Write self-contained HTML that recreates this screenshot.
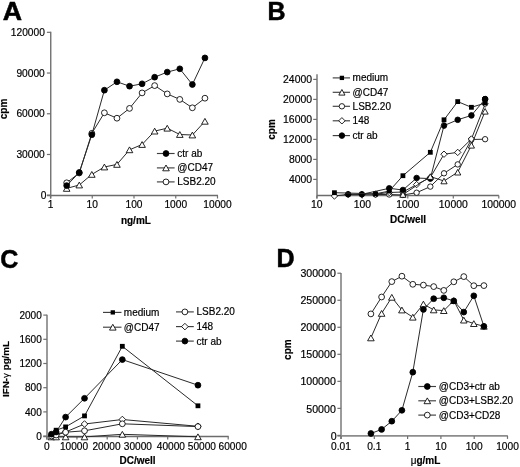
<!DOCTYPE html>
<html><head><meta charset="utf-8"><title>Figure</title>
<style>
html,body{margin:0;padding:0;background:#fff;}
body{width:520px;height:467px;overflow:hidden;}
svg{display:block;will-change:transform;font-family:"Liberation Sans", sans-serif;}
text{fill:#000;stroke:#000;stroke-width:0.18px;}
</style></head><body>
<svg width="520" height="467" viewBox="0 0 520 467">
<rect width="520" height="467" fill="#fff"/>
<text transform="translate(2.7 19.8) scale(1.07 1)" font-size="25" font-weight="bold" style="stroke-width:0.5px">A</text>
<text x="267.6" y="20" text-anchor="start" font-size="25" font-weight="bold" style="stroke-width:0.5px">B</text>
<text x="0.3" y="268.3" text-anchor="start" font-size="25" font-weight="bold" style="stroke-width:0.5px">C</text>
<text x="276.5" y="267.4" text-anchor="start" font-size="25" font-weight="bold" style="stroke-width:0.5px">D</text>
<line x1="50.75" y1="31.8" x2="50.75" y2="198.5" stroke="#6c6c6c" stroke-width="1.35"/>
<line x1="46.9" y1="195.5" x2="218" y2="195.5" stroke="#6c6c6c" stroke-width="1.35"/>
<line x1="46.9" y1="195.2" x2="50.75" y2="195.2" stroke="#707070" stroke-width="1.2"/>
<text x="46.3" y="198.8" text-anchor="end" font-size="10.2" font-weight="normal">0</text>
<line x1="46.9" y1="154.48" x2="50.75" y2="154.48" stroke="#707070" stroke-width="1.2"/>
<text x="44.8" y="158.08" text-anchor="end" font-size="10.2" font-weight="normal">30000</text>
<line x1="46.9" y1="113.76" x2="50.75" y2="113.76" stroke="#707070" stroke-width="1.2"/>
<text x="44.8" y="117.36" text-anchor="end" font-size="10.2" font-weight="normal">60000</text>
<line x1="46.9" y1="73.04" x2="50.75" y2="73.04" stroke="#707070" stroke-width="1.2"/>
<text x="44.8" y="76.64" text-anchor="end" font-size="10.2" font-weight="normal">90000</text>
<line x1="46.9" y1="32.32" x2="50.75" y2="32.32" stroke="#707070" stroke-width="1.2"/>
<text x="44.8" y="35.92" text-anchor="end" font-size="10.2" font-weight="normal">120000</text>
<line x1="50.5" y1="195.5" x2="50.5" y2="198.5" stroke="#707070" stroke-width="1.2"/>
<text x="50.5" y="208.2" text-anchor="middle" font-size="10.2" font-weight="normal">1</text>
<line x1="92.25" y1="195.5" x2="92.25" y2="198.5" stroke="#707070" stroke-width="1.2"/>
<text x="92.25" y="208.2" text-anchor="middle" font-size="10.2" font-weight="normal">10</text>
<line x1="134" y1="195.5" x2="134" y2="198.5" stroke="#707070" stroke-width="1.2"/>
<text x="134" y="208.2" text-anchor="middle" font-size="10.2" font-weight="normal">100</text>
<line x1="175.75" y1="195.5" x2="175.75" y2="198.5" stroke="#707070" stroke-width="1.2"/>
<text x="175.75" y="208.2" text-anchor="middle" font-size="10.2" font-weight="normal">1000</text>
<line x1="217.5" y1="195.5" x2="217.5" y2="198.5" stroke="#707070" stroke-width="1.2"/>
<text x="217.5" y="208.2" text-anchor="middle" font-size="10.2" font-weight="normal">10000</text>
<text x="135.9" y="223.5" text-anchor="middle" font-size="10" font-weight="bold">ng/mL</text>
<text transform="translate(6.5 109) rotate(-90)" text-anchor="middle" font-size="10" font-weight="bold">cpm</text>
<path d="M66.68 182.8 L79.25 173 L91.82 133.3 L104.39 112.8 L116.96 118.2 L129.52 108.4 L142.09 92.9 L154.66 85.6 L167.23 93.9 L179.8 99.4 L192.36 107.8 L204.93 98.2" fill="none" stroke="#2a2a2a" stroke-width="1.0" stroke-linejoin="round"/>
<circle cx="66.68" cy="182.8" r="2.9" fill="#fff" stroke="#000" stroke-width="0.85"/>
<circle cx="79.25" cy="173" r="2.9" fill="#fff" stroke="#000" stroke-width="0.85"/>
<circle cx="91.82" cy="133.3" r="2.9" fill="#fff" stroke="#000" stroke-width="0.85"/>
<circle cx="104.39" cy="112.8" r="2.9" fill="#fff" stroke="#000" stroke-width="0.85"/>
<circle cx="116.96" cy="118.2" r="2.9" fill="#fff" stroke="#000" stroke-width="0.85"/>
<circle cx="129.52" cy="108.4" r="2.9" fill="#fff" stroke="#000" stroke-width="0.85"/>
<circle cx="142.09" cy="92.9" r="2.9" fill="#fff" stroke="#000" stroke-width="0.85"/>
<circle cx="154.66" cy="85.6" r="2.9" fill="#fff" stroke="#000" stroke-width="0.85"/>
<circle cx="167.23" cy="93.9" r="2.9" fill="#fff" stroke="#000" stroke-width="0.85"/>
<circle cx="179.8" cy="99.4" r="2.9" fill="#fff" stroke="#000" stroke-width="0.85"/>
<circle cx="192.36" cy="107.8" r="2.9" fill="#fff" stroke="#000" stroke-width="0.85"/>
<circle cx="204.93" cy="98.2" r="2.9" fill="#fff" stroke="#000" stroke-width="0.85"/>
<path d="M66.68 188.4 L79.25 185 L91.82 174.4 L104.39 167 L116.96 164.4 L129.52 149.8 L142.09 144.5 L154.66 131.1 L167.23 128.2 L179.8 134.5 L192.36 135 L204.93 121.3" fill="none" stroke="#2a2a2a" stroke-width="1.0" stroke-linejoin="round"/>
<path d="M66.68 185.5L69.98 191.3L63.38 191.3Z" fill="#fff" stroke="#000" stroke-width="0.85" stroke-linejoin="miter"/>
<path d="M79.25 182.1L82.55 187.9L75.95 187.9Z" fill="#fff" stroke="#000" stroke-width="0.85" stroke-linejoin="miter"/>
<path d="M91.82 171.5L95.12 177.3L88.52 177.3Z" fill="#fff" stroke="#000" stroke-width="0.85" stroke-linejoin="miter"/>
<path d="M104.39 164.1L107.69 169.9L101.09 169.9Z" fill="#fff" stroke="#000" stroke-width="0.85" stroke-linejoin="miter"/>
<path d="M116.96 161.5L120.26 167.3L113.66 167.3Z" fill="#fff" stroke="#000" stroke-width="0.85" stroke-linejoin="miter"/>
<path d="M129.52 146.9L132.82 152.7L126.22 152.7Z" fill="#fff" stroke="#000" stroke-width="0.85" stroke-linejoin="miter"/>
<path d="M142.09 141.6L145.39 147.4L138.79 147.4Z" fill="#fff" stroke="#000" stroke-width="0.85" stroke-linejoin="miter"/>
<path d="M154.66 128.2L157.96 134L151.36 134Z" fill="#fff" stroke="#000" stroke-width="0.85" stroke-linejoin="miter"/>
<path d="M167.23 125.3L170.53 131.1L163.93 131.1Z" fill="#fff" stroke="#000" stroke-width="0.85" stroke-linejoin="miter"/>
<path d="M179.8 131.6L183.1 137.4L176.5 137.4Z" fill="#fff" stroke="#000" stroke-width="0.85" stroke-linejoin="miter"/>
<path d="M192.36 132.1L195.66 137.9L189.06 137.9Z" fill="#fff" stroke="#000" stroke-width="0.85" stroke-linejoin="miter"/>
<path d="M204.93 118.4L208.23 124.2L201.63 124.2Z" fill="#fff" stroke="#000" stroke-width="0.85" stroke-linejoin="miter"/>
<path d="M66.68 185.6 L79.25 172.5 L91.82 134.7 L104.39 90.2 L116.96 81.8 L129.52 86.2 L142.09 83.8 L154.66 77.2 L167.23 72.1 L179.8 68.8 L192.36 84.5 L204.93 57.9" fill="none" stroke="#2a2a2a" stroke-width="1.0" stroke-linejoin="round"/>
<circle cx="66.68" cy="185.6" r="2.9" fill="#000" stroke="#000" stroke-width="0.85"/>
<circle cx="79.25" cy="172.5" r="2.9" fill="#000" stroke="#000" stroke-width="0.85"/>
<circle cx="91.82" cy="134.7" r="2.9" fill="#000" stroke="#000" stroke-width="0.85"/>
<circle cx="104.39" cy="90.2" r="2.9" fill="#000" stroke="#000" stroke-width="0.85"/>
<circle cx="116.96" cy="81.8" r="2.9" fill="#000" stroke="#000" stroke-width="0.85"/>
<circle cx="129.52" cy="86.2" r="2.9" fill="#000" stroke="#000" stroke-width="0.85"/>
<circle cx="142.09" cy="83.8" r="2.9" fill="#000" stroke="#000" stroke-width="0.85"/>
<circle cx="154.66" cy="77.2" r="2.9" fill="#000" stroke="#000" stroke-width="0.85"/>
<circle cx="167.23" cy="72.1" r="2.9" fill="#000" stroke="#000" stroke-width="0.85"/>
<circle cx="179.8" cy="68.8" r="2.9" fill="#000" stroke="#000" stroke-width="0.85"/>
<circle cx="192.36" cy="84.5" r="2.9" fill="#000" stroke="#000" stroke-width="0.85"/>
<circle cx="204.93" cy="57.9" r="2.9" fill="#000" stroke="#000" stroke-width="0.85"/>
<line x1="156.9" y1="153.5" x2="174.6" y2="153.5" stroke="#404040" stroke-width="1.15"/>
<circle cx="166" cy="153.5" r="2.9" fill="#000" stroke="#000" stroke-width="0.85"/>
<text x="177.3" y="157" text-anchor="start" font-size="10" font-weight="normal">ctr ab</text>
<line x1="156.9" y1="167.9" x2="174.6" y2="167.9" stroke="#404040" stroke-width="1.15"/>
<path d="M166 165L169.3 170.8L162.7 170.8Z" fill="#fff" stroke="#000" stroke-width="0.85" stroke-linejoin="miter"/>
<text x="177.3" y="171.4" text-anchor="start" font-size="10" font-weight="normal">@CD47</text>
<line x1="156.9" y1="181.9" x2="174.6" y2="181.9" stroke="#404040" stroke-width="1.15"/>
<circle cx="166" cy="181.9" r="2.9" fill="#fff" stroke="#000" stroke-width="0.85"/>
<text x="177.3" y="185.4" text-anchor="start" font-size="10" font-weight="normal">LSB2.20</text>
<line x1="317" y1="74.3" x2="317" y2="198.5" stroke="#8a8a8a" stroke-width="1.7"/>
<line x1="317" y1="195.5" x2="498.9" y2="195.5" stroke="#6c6c6c" stroke-width="1.35"/>
<line x1="313.2" y1="179.4" x2="317" y2="179.4" stroke="#707070" stroke-width="1.2"/>
<text x="312" y="183" text-anchor="end" font-size="10.4" font-weight="normal">4000</text>
<line x1="313.2" y1="159.4" x2="317" y2="159.4" stroke="#707070" stroke-width="1.2"/>
<text x="312" y="163" text-anchor="end" font-size="10.4" font-weight="normal">8000</text>
<line x1="313.2" y1="139.4" x2="317" y2="139.4" stroke="#707070" stroke-width="1.2"/>
<text x="312" y="143" text-anchor="end" font-size="10.4" font-weight="normal">12000</text>
<line x1="313.2" y1="119.4" x2="317" y2="119.4" stroke="#707070" stroke-width="1.2"/>
<text x="312" y="123" text-anchor="end" font-size="10.4" font-weight="normal">16000</text>
<line x1="313.2" y1="99.4" x2="317" y2="99.4" stroke="#707070" stroke-width="1.2"/>
<text x="312" y="103" text-anchor="end" font-size="10.4" font-weight="normal">20000</text>
<line x1="313.2" y1="79.4" x2="317" y2="79.4" stroke="#707070" stroke-width="1.2"/>
<text x="312" y="83" text-anchor="end" font-size="10.4" font-weight="normal">24000</text>
<line x1="316.8" y1="195.5" x2="316.8" y2="198.5" stroke="#707070" stroke-width="1.2"/>
<text x="316.8" y="208" text-anchor="middle" font-size="10.4" font-weight="normal">10</text>
<line x1="362.3" y1="195.5" x2="362.3" y2="198.5" stroke="#707070" stroke-width="1.2"/>
<text x="362.3" y="208" text-anchor="middle" font-size="10.4" font-weight="normal">100</text>
<line x1="407.8" y1="195.5" x2="407.8" y2="198.5" stroke="#707070" stroke-width="1.2"/>
<text x="407.8" y="208" text-anchor="middle" font-size="10.4" font-weight="normal">1000</text>
<line x1="453.3" y1="195.5" x2="453.3" y2="198.5" stroke="#707070" stroke-width="1.2"/>
<text x="453.3" y="208" text-anchor="middle" font-size="10.4" font-weight="normal">10000</text>
<line x1="498.8" y1="195.5" x2="498.8" y2="198.5" stroke="#707070" stroke-width="1.2"/>
<text x="498.8" y="208" text-anchor="middle" font-size="10.4" font-weight="normal">100000</text>
<text x="408" y="222.8" text-anchor="middle" font-size="10" font-weight="bold">DC/well</text>
<text transform="translate(274.9 129.5) rotate(-90)" text-anchor="middle" font-size="10" font-weight="bold">cpm</text>
<path d="M375.53 194.5 L389.23 194.5 L402.92 195 L416.62 192.7 L430.32 186.6 L444.01 173.3 L457.71 164.4 L471.41 139.5 L485.1 139.2" fill="none" stroke="#2a2a2a" stroke-width="1.0" stroke-linejoin="round"/>
<circle cx="375.53" cy="194.5" r="2.7" fill="#fff" stroke="#000" stroke-width="0.85"/>
<circle cx="389.23" cy="194.5" r="2.7" fill="#fff" stroke="#000" stroke-width="0.85"/>
<circle cx="402.92" cy="195" r="2.7" fill="#fff" stroke="#000" stroke-width="0.85"/>
<circle cx="416.62" cy="192.7" r="2.7" fill="#fff" stroke="#000" stroke-width="0.85"/>
<circle cx="430.32" cy="186.6" r="2.7" fill="#fff" stroke="#000" stroke-width="0.85"/>
<circle cx="444.01" cy="173.3" r="2.7" fill="#fff" stroke="#000" stroke-width="0.85"/>
<circle cx="457.71" cy="164.4" r="2.7" fill="#fff" stroke="#000" stroke-width="0.85"/>
<circle cx="471.41" cy="139.5" r="2.7" fill="#fff" stroke="#000" stroke-width="0.85"/>
<circle cx="485.1" cy="139.2" r="2.7" fill="#fff" stroke="#000" stroke-width="0.85"/>
<path d="M334.44 196 L348.13 194.4 L361.83 194.4 L375.53 194.2 L389.23 192.5 L402.92 192 L416.62 184.6 L430.32 177.5 L444.01 154.2 L457.71 152.4 L471.41 139 L485.1 104" fill="none" stroke="#2a2a2a" stroke-width="1.0" stroke-linejoin="round"/>
<path d="M334.44 192.8L337.64 196L334.44 199.2L331.24 196Z" fill="#fff" stroke="#000" stroke-width="0.85"/>
<path d="M348.13 191.2L351.33 194.4L348.13 197.6L344.93 194.4Z" fill="#fff" stroke="#000" stroke-width="0.85"/>
<path d="M361.83 191.2L365.03 194.4L361.83 197.6L358.63 194.4Z" fill="#fff" stroke="#000" stroke-width="0.85"/>
<path d="M375.53 191L378.73 194.2L375.53 197.4L372.33 194.2Z" fill="#fff" stroke="#000" stroke-width="0.85"/>
<path d="M389.23 189.3L392.43 192.5L389.23 195.7L386.03 192.5Z" fill="#fff" stroke="#000" stroke-width="0.85"/>
<path d="M402.92 188.8L406.12 192L402.92 195.2L399.72 192Z" fill="#fff" stroke="#000" stroke-width="0.85"/>
<path d="M416.62 181.4L419.82 184.6L416.62 187.8L413.42 184.6Z" fill="#fff" stroke="#000" stroke-width="0.85"/>
<path d="M430.32 174.3L433.52 177.5L430.32 180.7L427.12 177.5Z" fill="#fff" stroke="#000" stroke-width="0.85"/>
<path d="M444.01 151L447.21 154.2L444.01 157.4L440.81 154.2Z" fill="#fff" stroke="#000" stroke-width="0.85"/>
<path d="M457.71 149.2L460.91 152.4L457.71 155.6L454.51 152.4Z" fill="#fff" stroke="#000" stroke-width="0.85"/>
<path d="M471.41 135.8L474.61 139L471.41 142.2L468.21 139Z" fill="#fff" stroke="#000" stroke-width="0.85"/>
<path d="M485.1 100.8L488.3 104L485.1 107.2L481.9 104Z" fill="#fff" stroke="#000" stroke-width="0.85"/>
<path d="M348.13 194.3 L361.83 194.3 L389.23 188.3 L402.92 190 L416.62 178 L430.32 178.6 L444.01 125.6 L457.71 119.8 L471.41 115.4 L485.1 99.1" fill="none" stroke="#2a2a2a" stroke-width="1.0" stroke-linejoin="round"/>
<circle cx="348.13" cy="194.3" r="2.8" fill="#000" stroke="#000" stroke-width="0.85"/>
<circle cx="361.83" cy="194.3" r="2.8" fill="#000" stroke="#000" stroke-width="0.85"/>
<circle cx="389.23" cy="188.3" r="2.8" fill="#000" stroke="#000" stroke-width="0.85"/>
<circle cx="402.92" cy="190" r="2.8" fill="#000" stroke="#000" stroke-width="0.85"/>
<circle cx="416.62" cy="178" r="2.8" fill="#000" stroke="#000" stroke-width="0.85"/>
<circle cx="430.32" cy="178.6" r="2.8" fill="#000" stroke="#000" stroke-width="0.85"/>
<circle cx="444.01" cy="125.6" r="2.8" fill="#000" stroke="#000" stroke-width="0.85"/>
<circle cx="457.71" cy="119.8" r="2.8" fill="#000" stroke="#000" stroke-width="0.85"/>
<circle cx="471.41" cy="115.4" r="2.8" fill="#000" stroke="#000" stroke-width="0.85"/>
<circle cx="485.1" cy="99.1" r="2.8" fill="#000" stroke="#000" stroke-width="0.85"/>
<path d="M402.92 194.5 L430.32 176.6 L444.01 181 L457.71 172.2 L471.41 145.3 L485.1 111.3" fill="none" stroke="#2a2a2a" stroke-width="1.0" stroke-linejoin="round"/>
<path d="M402.92 191.7L406.02 197.3L399.82 197.3Z" fill="#fff" stroke="#000" stroke-width="0.85" stroke-linejoin="miter"/>
<path d="M430.32 173.8L433.42 179.4L427.22 179.4Z" fill="#fff" stroke="#000" stroke-width="0.85" stroke-linejoin="miter"/>
<path d="M444.01 178.2L447.11 183.8L440.91 183.8Z" fill="#fff" stroke="#000" stroke-width="0.85" stroke-linejoin="miter"/>
<path d="M457.71 169.4L460.81 175L454.61 175Z" fill="#fff" stroke="#000" stroke-width="0.85" stroke-linejoin="miter"/>
<path d="M471.41 142.5L474.51 148.1L468.31 148.1Z" fill="#fff" stroke="#000" stroke-width="0.85" stroke-linejoin="miter"/>
<path d="M485.1 108.5L488.2 114.1L482 114.1Z" fill="#fff" stroke="#000" stroke-width="0.85" stroke-linejoin="miter"/>
<path d="M334.44 192.7 L375.53 193.8 L389.23 191.1 L402.92 175.7 L430.32 152.3 L444.01 119.8 L457.71 101.6 L471.41 107.3 L485.1 103.1" fill="none" stroke="#2a2a2a" stroke-width="1.0" stroke-linejoin="round"/>
<rect x="332.04" y="190.3" width="4.8" height="4.8" fill="#000"/>
<rect x="373.13" y="191.4" width="4.8" height="4.8" fill="#000"/>
<rect x="386.83" y="188.7" width="4.8" height="4.8" fill="#000"/>
<rect x="400.52" y="173.3" width="4.8" height="4.8" fill="#000"/>
<rect x="427.92" y="149.9" width="4.8" height="4.8" fill="#000"/>
<rect x="441.61" y="117.4" width="4.8" height="4.8" fill="#000"/>
<rect x="455.31" y="99.2" width="4.8" height="4.8" fill="#000"/>
<rect x="469.01" y="104.9" width="4.8" height="4.8" fill="#000"/>
<rect x="482.7" y="100.7" width="4.8" height="4.8" fill="#000"/>
<circle cx="485.1" cy="99.1" r="2.8" fill="#000" stroke="#000" stroke-width="0.85"/>
<line x1="332.7" y1="77.9" x2="350" y2="77.9" stroke="#404040" stroke-width="1.15"/>
<rect x="339.75" y="75.75" width="4.3" height="4.3" fill="#000"/>
<text x="352.6" y="81.4" text-anchor="start" font-size="10" font-weight="normal">medium</text>
<line x1="332.7" y1="92.3" x2="350" y2="92.3" stroke="#404040" stroke-width="1.15"/>
<path d="M341.9 89.5L345 95.1L338.8 95.1Z" fill="#fff" stroke="#000" stroke-width="0.85" stroke-linejoin="miter"/>
<text x="352.6" y="95.8" text-anchor="start" font-size="10" font-weight="normal">@CD47</text>
<line x1="332.7" y1="106.3" x2="350" y2="106.3" stroke="#404040" stroke-width="1.15"/>
<circle cx="341.9" cy="106.3" r="2.7" fill="#fff" stroke="#000" stroke-width="0.85"/>
<text x="352.6" y="109.8" text-anchor="start" font-size="10" font-weight="normal">LSB2.20</text>
<line x1="332.7" y1="120.8" x2="350" y2="120.8" stroke="#404040" stroke-width="1.15"/>
<path d="M341.9 117.6L345.1 120.8L341.9 124L338.7 120.8Z" fill="#fff" stroke="#000" stroke-width="0.85"/>
<text x="352.6" y="124.3" text-anchor="start" font-size="10" font-weight="normal">148</text>
<line x1="332.7" y1="135.6" x2="350" y2="135.6" stroke="#404040" stroke-width="1.15"/>
<circle cx="341.9" cy="135.6" r="2.8" fill="#000" stroke="#000" stroke-width="0.85"/>
<text x="352.6" y="139.1" text-anchor="start" font-size="10" font-weight="normal">ctr ab</text>
<line x1="47" y1="314.7" x2="47" y2="439.5" stroke="#8a8a8a" stroke-width="1.7"/>
<line x1="43.3" y1="436.5" x2="228.7" y2="436.5" stroke="#6c6c6c" stroke-width="1.35"/>
<line x1="43.3" y1="436.1" x2="47" y2="436.1" stroke="#707070" stroke-width="1.2"/>
<text x="41.8" y="439.7" text-anchor="end" font-size="10.05" font-weight="normal">0</text>
<line x1="43.3" y1="411.9" x2="47" y2="411.9" stroke="#707070" stroke-width="1.2"/>
<text x="41.8" y="415.5" text-anchor="end" font-size="10.05" font-weight="normal">400</text>
<line x1="43.3" y1="387.7" x2="47" y2="387.7" stroke="#707070" stroke-width="1.2"/>
<text x="41.8" y="391.3" text-anchor="end" font-size="10.05" font-weight="normal">800</text>
<line x1="43.3" y1="363.5" x2="47" y2="363.5" stroke="#707070" stroke-width="1.2"/>
<text x="41.8" y="367.1" text-anchor="end" font-size="10.05" font-weight="normal">1200</text>
<line x1="43.3" y1="339.3" x2="47" y2="339.3" stroke="#707070" stroke-width="1.2"/>
<text x="41.8" y="342.9" text-anchor="end" font-size="10.05" font-weight="normal">1600</text>
<line x1="43.3" y1="315.1" x2="47" y2="315.1" stroke="#707070" stroke-width="1.2"/>
<text x="41.8" y="318.7" text-anchor="end" font-size="10.05" font-weight="normal">2000</text>
<line x1="46.7" y1="436.5" x2="46.7" y2="439.5" stroke="#707070" stroke-width="1.2"/>
<text x="46.9" y="449.5" text-anchor="middle" font-size="10.15" font-weight="normal">0</text>
<line x1="76.95" y1="436.5" x2="76.95" y2="439.5" stroke="#707070" stroke-width="1.2"/>
<text x="74" y="449.5" text-anchor="middle" font-size="10.15" font-weight="normal">10000</text>
<line x1="107.2" y1="436.5" x2="107.2" y2="439.5" stroke="#707070" stroke-width="1.2"/>
<text x="106.5" y="449.5" text-anchor="middle" font-size="10.15" font-weight="normal">20000</text>
<line x1="137.45" y1="436.5" x2="137.45" y2="439.5" stroke="#707070" stroke-width="1.2"/>
<text x="137.9" y="449.5" text-anchor="middle" font-size="10.15" font-weight="normal">30000</text>
<line x1="167.7" y1="436.5" x2="167.7" y2="439.5" stroke="#707070" stroke-width="1.2"/>
<text x="170.9" y="449.5" text-anchor="middle" font-size="10.15" font-weight="normal">40000</text>
<line x1="197.95" y1="436.5" x2="197.95" y2="439.5" stroke="#707070" stroke-width="1.2"/>
<text x="201.9" y="449.5" text-anchor="middle" font-size="10.15" font-weight="normal">50000</text>
<line x1="228.2" y1="436.5" x2="228.2" y2="439.5" stroke="#707070" stroke-width="1.2"/>
<text x="232.7" y="449.5" text-anchor="middle" font-size="10.15" font-weight="normal">60000</text>
<text x="137.6" y="463.7" text-anchor="middle" font-size="10" font-weight="bold">DC/well</text>
<text transform="translate(8.9 369) rotate(-90)" text-anchor="middle" font-size="9.8" font-weight="bold">IFN-<tspan font-weight="normal">&#947;</tspan> pg/mL</text>
<path d="M51.43 436.9 L56.15 436.9 L65.61 436.9 L84.51 436.9 L122.33 434.3 L197.95 436.8" fill="none" stroke="#2a2a2a" stroke-width="1.0" stroke-linejoin="round"/>
<path d="M51.43 434L54.73 439.8L48.13 439.8Z" fill="#fff" stroke="#000" stroke-width="0.85" stroke-linejoin="miter"/>
<path d="M56.15 434L59.45 439.8L52.85 439.8Z" fill="#fff" stroke="#000" stroke-width="0.85" stroke-linejoin="miter"/>
<path d="M65.61 434L68.91 439.8L62.31 439.8Z" fill="#fff" stroke="#000" stroke-width="0.85" stroke-linejoin="miter"/>
<path d="M84.51 434L87.81 439.8L81.21 439.8Z" fill="#fff" stroke="#000" stroke-width="0.85" stroke-linejoin="miter"/>
<path d="M122.33 431.4L125.62 437.2L119.03 437.2Z" fill="#fff" stroke="#000" stroke-width="0.85" stroke-linejoin="miter"/>
<path d="M197.95 433.9L201.25 439.7L194.65 439.7Z" fill="#fff" stroke="#000" stroke-width="0.85" stroke-linejoin="miter"/>
<path d="M51.43 436 L56.15 434 L65.61 432 L84.51 424 L122.33 419.5 L197.95 426.3" fill="none" stroke="#2a2a2a" stroke-width="1.0" stroke-linejoin="round"/>
<path d="M51.43 432.7L54.73 436L51.43 439.3L48.13 436Z" fill="#fff" stroke="#000" stroke-width="0.85"/>
<path d="M56.15 430.7L59.45 434L56.15 437.3L52.85 434Z" fill="#fff" stroke="#000" stroke-width="0.85"/>
<path d="M65.61 428.7L68.91 432L65.61 435.3L62.31 432Z" fill="#fff" stroke="#000" stroke-width="0.85"/>
<path d="M84.51 420.7L87.81 424L84.51 427.3L81.21 424Z" fill="#fff" stroke="#000" stroke-width="0.85"/>
<path d="M122.33 416.2L125.62 419.5L122.33 422.8L119.03 419.5Z" fill="#fff" stroke="#000" stroke-width="0.85"/>
<path d="M197.95 423L201.25 426.3L197.95 429.6L194.65 426.3Z" fill="#fff" stroke="#000" stroke-width="0.85"/>
<path d="M51.43 436 L56.15 435 L65.61 432.2 L84.51 430.8 L122.33 423.8 L197.95 426.6" fill="none" stroke="#2a2a2a" stroke-width="1.0" stroke-linejoin="round"/>
<circle cx="51.43" cy="436" r="2.9" fill="#fff" stroke="#000" stroke-width="0.85"/>
<circle cx="56.15" cy="435" r="2.9" fill="#fff" stroke="#000" stroke-width="0.85"/>
<circle cx="65.61" cy="432.2" r="2.9" fill="#fff" stroke="#000" stroke-width="0.85"/>
<circle cx="84.51" cy="430.8" r="2.9" fill="#fff" stroke="#000" stroke-width="0.85"/>
<circle cx="122.33" cy="423.8" r="2.9" fill="#fff" stroke="#000" stroke-width="0.85"/>
<circle cx="197.95" cy="426.6" r="2.9" fill="#fff" stroke="#000" stroke-width="0.85"/>
<path d="M56.15 430.2 L65.61 426.9 L84.51 415.9 L122.33 346.3 L197.95 405.8" fill="none" stroke="#2a2a2a" stroke-width="1.0" stroke-linejoin="round"/>
<rect x="53.75" y="427.8" width="4.8" height="4.8" fill="#000"/>
<rect x="63.21" y="424.5" width="4.8" height="4.8" fill="#000"/>
<rect x="82.11" y="413.5" width="4.8" height="4.8" fill="#000"/>
<rect x="119.92" y="343.9" width="4.8" height="4.8" fill="#000"/>
<rect x="195.55" y="403.4" width="4.8" height="4.8" fill="#000"/>
<path d="M51.43 434.2 L56.15 432 L65.61 417.1 L84.51 398.3 L122.33 359.6 L197.95 385.2" fill="none" stroke="#2a2a2a" stroke-width="1.0" stroke-linejoin="round"/>
<circle cx="51.43" cy="434.2" r="2.9" fill="#000" stroke="#000" stroke-width="0.85"/>
<circle cx="56.15" cy="432" r="2.9" fill="#000" stroke="#000" stroke-width="0.85"/>
<circle cx="65.61" cy="417.1" r="2.9" fill="#000" stroke="#000" stroke-width="0.85"/>
<circle cx="84.51" cy="398.3" r="2.9" fill="#000" stroke="#000" stroke-width="0.85"/>
<circle cx="122.33" cy="359.6" r="2.9" fill="#000" stroke="#000" stroke-width="0.85"/>
<circle cx="197.95" cy="385.2" r="2.9" fill="#000" stroke="#000" stroke-width="0.85"/>
<line x1="103" y1="312.4" x2="121.5" y2="312.4" stroke="#404040" stroke-width="1.15"/>
<rect x="110.65" y="310.25" width="4.3" height="4.3" fill="#000"/>
<text x="123.8" y="315.9" text-anchor="start" font-size="10" font-weight="normal">medium</text>
<line x1="103" y1="327.2" x2="121.5" y2="327.2" stroke="#404040" stroke-width="1.15"/>
<path d="M112.8 324.3L116.1 330.1L109.5 330.1Z" fill="#fff" stroke="#000" stroke-width="0.85" stroke-linejoin="miter"/>
<text x="123.8" y="330.7" text-anchor="start" font-size="10" font-weight="normal">@CD47</text>
<line x1="176" y1="311.9" x2="193.8" y2="311.9" stroke="#404040" stroke-width="1.15"/>
<circle cx="184.9" cy="311.9" r="2.9" fill="#fff" stroke="#000" stroke-width="0.85"/>
<text x="196.5" y="315.4" text-anchor="start" font-size="10" font-weight="normal">LSB2.20</text>
<line x1="176" y1="326.6" x2="193.8" y2="326.6" stroke="#404040" stroke-width="1.15"/>
<path d="M184.9 323.3L188.2 326.6L184.9 329.9L181.6 326.6Z" fill="#fff" stroke="#000" stroke-width="0.85"/>
<text x="196.5" y="330.1" text-anchor="start" font-size="10" font-weight="normal">148</text>
<line x1="176" y1="341.1" x2="193.8" y2="341.1" stroke="#404040" stroke-width="1.15"/>
<circle cx="184.9" cy="341.1" r="2.9" fill="#000" stroke="#000" stroke-width="0.85"/>
<text x="196.5" y="344.6" text-anchor="start" font-size="10" font-weight="normal">ctr ab</text>
<line x1="341" y1="272.9" x2="341" y2="438.9" stroke="#8a8a8a" stroke-width="1.7"/>
<line x1="337.4" y1="435.9" x2="507.8" y2="435.9" stroke="#8c8c8c" stroke-width="1.7"/>
<line x1="337.4" y1="435.4" x2="341" y2="435.4" stroke="#707070" stroke-width="1.2"/>
<text x="336.6" y="439.7" text-anchor="end" font-size="10.6" font-weight="normal">0</text>
<line x1="337.4" y1="408.37" x2="341" y2="408.37" stroke="#707070" stroke-width="1.2"/>
<text x="335.8" y="412.67" text-anchor="end" font-size="10.6" font-weight="normal">50000</text>
<line x1="337.4" y1="381.34" x2="341" y2="381.34" stroke="#707070" stroke-width="1.2"/>
<text x="335.8" y="385.24" text-anchor="end" font-size="10.6" font-weight="normal">100000</text>
<line x1="337.4" y1="354.31" x2="341" y2="354.31" stroke="#707070" stroke-width="1.2"/>
<text x="335.8" y="358.21" text-anchor="end" font-size="10.6" font-weight="normal">150000</text>
<line x1="337.4" y1="327.28" x2="341" y2="327.28" stroke="#707070" stroke-width="1.2"/>
<text x="335.8" y="331.18" text-anchor="end" font-size="10.6" font-weight="normal">200000</text>
<line x1="337.4" y1="300.25" x2="341" y2="300.25" stroke="#707070" stroke-width="1.2"/>
<text x="335.8" y="304.15" text-anchor="end" font-size="10.6" font-weight="normal">250000</text>
<line x1="337.4" y1="273.22" x2="341" y2="273.22" stroke="#707070" stroke-width="1.2"/>
<text x="335.8" y="277.12" text-anchor="end" font-size="10.6" font-weight="normal">300000</text>
<line x1="341" y1="435.9" x2="341" y2="438.9" stroke="#707070" stroke-width="1.2"/>
<text x="341" y="449.6" text-anchor="middle" font-size="10.2" font-weight="normal">0.01</text>
<line x1="374.3" y1="435.9" x2="374.3" y2="438.9" stroke="#707070" stroke-width="1.2"/>
<text x="374.3" y="449.6" text-anchor="middle" font-size="10.2" font-weight="normal">0.1</text>
<line x1="407.6" y1="435.9" x2="407.6" y2="438.9" stroke="#707070" stroke-width="1.2"/>
<text x="407.6" y="449.6" text-anchor="middle" font-size="10.2" font-weight="normal">1</text>
<line x1="440.9" y1="435.9" x2="440.9" y2="438.9" stroke="#707070" stroke-width="1.2"/>
<text x="440.9" y="449.6" text-anchor="middle" font-size="10.2" font-weight="normal">10</text>
<line x1="474.2" y1="435.9" x2="474.2" y2="438.9" stroke="#707070" stroke-width="1.2"/>
<text x="474.2" y="449.6" text-anchor="middle" font-size="10.2" font-weight="normal">100</text>
<line x1="507.5" y1="435.9" x2="507.5" y2="438.9" stroke="#707070" stroke-width="1.2"/>
<text x="507.5" y="449.6" text-anchor="middle" font-size="10.2" font-weight="normal">1000</text>
<text x="425.5" y="464" text-anchor="middle" font-size="10" font-weight="bold"><tspan font-weight="normal">&#956;</tspan>g/mL</text>
<text transform="translate(290.8 349.6) rotate(-90)" text-anchor="middle" font-size="10" font-weight="bold">cpm</text>
<path d="M370.9 313.9 L381.6 297 L391.8 281.6 L401.9 276.2 L412.8 284.3 L423.4 285.1 L433.7 286.6 L443.8 290.4 L453.8 281.8 L463.8 276.6 L473.8 285.7 L483.9 285.6" fill="none" stroke="#2a2a2a" stroke-width="1.0" stroke-linejoin="round"/>
<circle cx="370.9" cy="313.9" r="2.9" fill="#fff" stroke="#000" stroke-width="0.85"/>
<circle cx="381.6" cy="297" r="2.9" fill="#fff" stroke="#000" stroke-width="0.85"/>
<circle cx="391.8" cy="281.6" r="2.9" fill="#fff" stroke="#000" stroke-width="0.85"/>
<circle cx="401.9" cy="276.2" r="2.9" fill="#fff" stroke="#000" stroke-width="0.85"/>
<circle cx="412.8" cy="284.3" r="2.9" fill="#fff" stroke="#000" stroke-width="0.85"/>
<circle cx="423.4" cy="285.1" r="2.9" fill="#fff" stroke="#000" stroke-width="0.85"/>
<circle cx="433.7" cy="286.6" r="2.9" fill="#fff" stroke="#000" stroke-width="0.85"/>
<circle cx="443.8" cy="290.4" r="2.9" fill="#fff" stroke="#000" stroke-width="0.85"/>
<circle cx="453.8" cy="281.8" r="2.9" fill="#fff" stroke="#000" stroke-width="0.85"/>
<circle cx="463.8" cy="276.6" r="2.9" fill="#fff" stroke="#000" stroke-width="0.85"/>
<circle cx="473.8" cy="285.7" r="2.9" fill="#fff" stroke="#000" stroke-width="0.85"/>
<circle cx="483.9" cy="285.6" r="2.9" fill="#fff" stroke="#000" stroke-width="0.85"/>
<path d="M370.9 337.9 L381.6 313.4 L391.8 297.3 L401.9 310 L412.8 317.2 L423.4 304.1 L433.7 309.9 L443.8 310.6 L453.8 300.6 L463.8 320.1 L473.8 323.6 L483.9 326.3" fill="none" stroke="#2a2a2a" stroke-width="1.0" stroke-linejoin="round"/>
<path d="M370.9 335L374.2 340.8L367.6 340.8Z" fill="#fff" stroke="#000" stroke-width="0.85" stroke-linejoin="miter"/>
<path d="M381.6 310.5L384.9 316.3L378.3 316.3Z" fill="#fff" stroke="#000" stroke-width="0.85" stroke-linejoin="miter"/>
<path d="M391.8 294.4L395.1 300.2L388.5 300.2Z" fill="#fff" stroke="#000" stroke-width="0.85" stroke-linejoin="miter"/>
<path d="M401.9 307.1L405.2 312.9L398.6 312.9Z" fill="#fff" stroke="#000" stroke-width="0.85" stroke-linejoin="miter"/>
<path d="M412.8 314.3L416.1 320.1L409.5 320.1Z" fill="#fff" stroke="#000" stroke-width="0.85" stroke-linejoin="miter"/>
<path d="M423.4 301.2L426.7 307L420.1 307Z" fill="#fff" stroke="#000" stroke-width="0.85" stroke-linejoin="miter"/>
<path d="M433.7 307L437 312.8L430.4 312.8Z" fill="#fff" stroke="#000" stroke-width="0.85" stroke-linejoin="miter"/>
<path d="M443.8 307.7L447.1 313.5L440.5 313.5Z" fill="#fff" stroke="#000" stroke-width="0.85" stroke-linejoin="miter"/>
<path d="M453.8 297.7L457.1 303.5L450.5 303.5Z" fill="#fff" stroke="#000" stroke-width="0.85" stroke-linejoin="miter"/>
<path d="M463.8 317.2L467.1 323L460.5 323Z" fill="#fff" stroke="#000" stroke-width="0.85" stroke-linejoin="miter"/>
<path d="M473.8 320.7L477.1 326.5L470.5 326.5Z" fill="#fff" stroke="#000" stroke-width="0.85" stroke-linejoin="miter"/>
<path d="M483.9 323.4L487.2 329.2L480.6 329.2Z" fill="#fff" stroke="#000" stroke-width="0.85" stroke-linejoin="miter"/>
<path d="M370.9 433.5 L381.6 429.4 L391.8 421.2 L401.9 410.3 L412.8 372.2 L423.4 309.4 L433.7 298.7 L443.8 297.8 L453.8 300.9 L463.8 312.1 L473.8 295.8 L483.9 326.3" fill="none" stroke="#2a2a2a" stroke-width="1.0" stroke-linejoin="round"/>
<circle cx="370.9" cy="433.5" r="2.9" fill="#000" stroke="#000" stroke-width="0.85"/>
<circle cx="381.6" cy="429.4" r="2.9" fill="#000" stroke="#000" stroke-width="0.85"/>
<circle cx="391.8" cy="421.2" r="2.9" fill="#000" stroke="#000" stroke-width="0.85"/>
<circle cx="401.9" cy="410.3" r="2.9" fill="#000" stroke="#000" stroke-width="0.85"/>
<circle cx="412.8" cy="372.2" r="2.9" fill="#000" stroke="#000" stroke-width="0.85"/>
<circle cx="423.4" cy="309.4" r="2.9" fill="#000" stroke="#000" stroke-width="0.85"/>
<circle cx="433.7" cy="298.7" r="2.9" fill="#000" stroke="#000" stroke-width="0.85"/>
<circle cx="443.8" cy="297.8" r="2.9" fill="#000" stroke="#000" stroke-width="0.85"/>
<circle cx="453.8" cy="300.9" r="2.9" fill="#000" stroke="#000" stroke-width="0.85"/>
<circle cx="463.8" cy="312.1" r="2.9" fill="#000" stroke="#000" stroke-width="0.85"/>
<circle cx="473.8" cy="295.8" r="2.9" fill="#000" stroke="#000" stroke-width="0.85"/>
<circle cx="483.9" cy="326.3" r="2.9" fill="#000" stroke="#000" stroke-width="0.85"/>
<line x1="418.3" y1="386.5" x2="436" y2="386.5" stroke="#404040" stroke-width="1.15"/>
<circle cx="427.3" cy="386.5" r="2.9" fill="#000" stroke="#000" stroke-width="0.85"/>
<text x="438.8" y="390" text-anchor="start" font-size="10" font-weight="normal">@CD3+ctr ab</text>
<line x1="418.3" y1="400.8" x2="436" y2="400.8" stroke="#404040" stroke-width="1.15"/>
<path d="M427.3 397.9L430.6 403.7L424 403.7Z" fill="#fff" stroke="#000" stroke-width="0.85" stroke-linejoin="miter"/>
<text x="438.8" y="404.3" text-anchor="start" font-size="10" font-weight="normal">@CD3+LSB2.20</text>
<line x1="418.3" y1="415.1" x2="436" y2="415.1" stroke="#404040" stroke-width="1.15"/>
<circle cx="427.3" cy="415.1" r="2.9" fill="#fff" stroke="#000" stroke-width="0.85"/>
<text x="438.8" y="418.6" text-anchor="start" font-size="10" font-weight="normal">@CD3+CD28</text>
</svg>
</body></html>
